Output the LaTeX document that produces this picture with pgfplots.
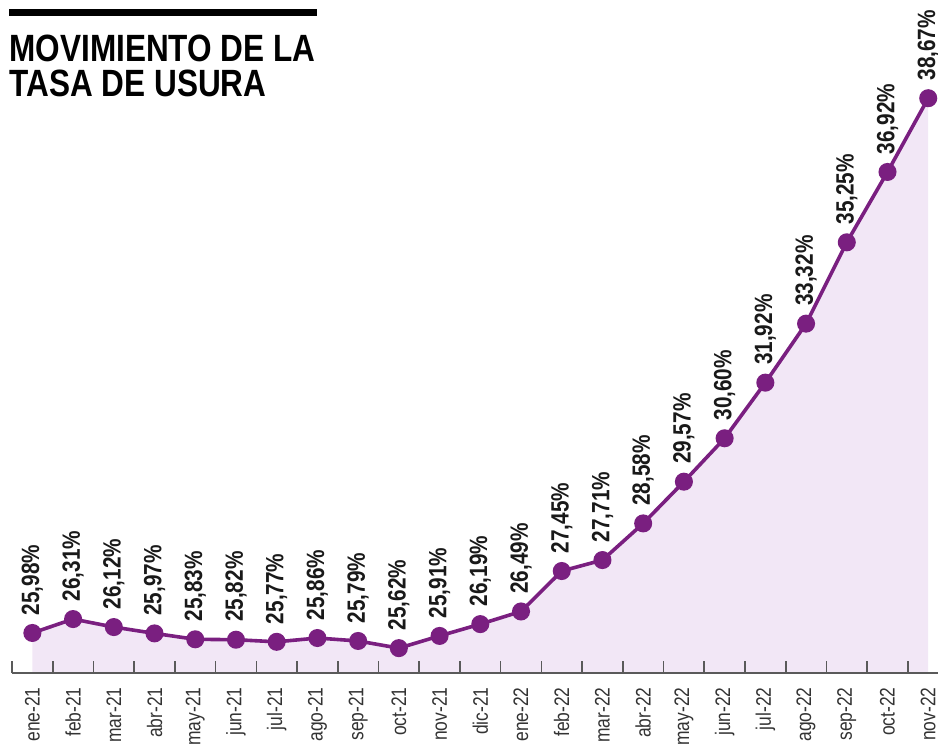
\documentclass[border=0pt]{standalone}
\usepackage{pgfplots}
\pgfplotsset{compat=1.18}
\usepackage{fontspec}
\setmainfont{Liberation Sans}[FakeStretch=0.83]
\definecolor{usura}{RGB}{122,31,128}
\definecolor{lav}{RGB}{242,231,246}
\definecolor{axgray}{RGB}{90,90,90}

\begin{document}
\begin{tikzpicture}
\path[use as bounding box] (-6pt,-36.5pt) rectangle (463pt,336.5pt);
\begin{axis}[
  scale only axis, width=463pt, height=336.5pt,
  xmin=-0.5, xmax=22.24, ymin=25.03, ymax=41.0,
  axis on top,
  axis y line=none, axis x line*=bottom,
  axis line style={draw=axgray, line width=0.8pt},
  xtick={0,...,22},
  xticklabels={ene-21,feb-21,mar-21,abr-21,may-21,jun-21,jul-21,ago-21,sep-21,oct-21,nov-21,dic-21,
               ene-22,feb-22,mar-22,abr-22,may-22,jun-22,jul-22,ago-22,sep-22,oct-22,nov-22},
  major tick length=0pt,
  extra x ticks={-0.5,0.5,1.5,2.5,3.5,4.5,5.5,6.5,7.5,8.5,9.5,10.5,11.5,
                 12.5,13.5,14.5,15.5,16.5,17.5,18.5,19.5,20.5,21.5},
  extra x tick labels={},
  extra x tick style={major tick length=6pt, tick align=inside,
    tick style={draw=axgray, line width=0.8pt}},
  tick align=inside,
  xticklabel style={rotate=90, anchor=east, inner sep=0pt,
                    font=\fontsize{10.5}{12}\selectfont, text=black!80},
  xticklabel shift=7pt,
  clip=false,
]
% shaded area under the line
\addplot[fill=lav, draw=none, forget plot] coordinates {
  (0,25.03)(0,25.98)(1,26.31)(2,26.12)(3,25.97)(4,25.83)(5,25.82)(6,25.77)
  (7,25.86)(8,25.79)(9,25.62)(10,25.91)(11,26.19)(12,26.49)(13,27.45)
  (14,27.71)(15,28.58)(16,29.57)(17,30.60)(18,31.92)(19,33.32)(20,35.25)
  (21,36.92)(22,38.67)(22,25.03)
};
% rate series
\addplot[usura, line width=1.8pt, mark=*, mark size=3.6pt,
  mark options={solid, fill=usura},
  nodes near coords={\pgfmathprintnumber[fixed, fixed zerofill, precision=2,
    use comma, assume math mode=true]{\pgfplotspointmeta}\%},
  every node near coord/.style={rotate=90, anchor=west, inner ysep=0pt,
    inner xsep=8pt, text=black!90, font=\bfseries\fontsize{12.5}{12}\selectfont},
] coordinates {
  (0,25.98)(1,26.31)(2,26.12)(3,25.97)(4,25.83)(5,25.82)(6,25.77)
  (7,25.86)(8,25.79)(9,25.62)(10,25.91)(11,26.19)(12,26.49)(13,27.45)
  (14,27.71)(15,28.58)(16,29.57)(17,30.60)(18,31.92)(19,33.32)(20,35.25)
  (21,36.92)(22,38.67)
};
\end{axis}
% title block
\fill[black] (-1.5pt,328.5pt) rectangle (152.5pt,331.8pt);
\node[anchor=base west, inner sep=0pt, font=\bfseries\fontsize{19}{19}\selectfont]
  at (-1.5pt,305.7pt) {MOVIMIENTO DE LA};
\node[anchor=base west, inner sep=0pt, font=\bfseries\fontsize{19}{19}\selectfont]
  at (-1.5pt,288.2pt) {TASA DE USURA};
\end{tikzpicture}
\end{document}
